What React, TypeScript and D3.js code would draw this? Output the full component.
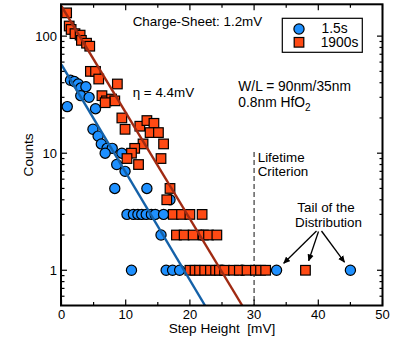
import React from 'react';
import * as d3 from 'd3';

const W = 403;
const H = 354;

// 1.5s (blue circles): step height [mV] and counts
const blueX = [0.9, 1.4, 2.0, 2.6, 3.0, 3.8, 3.0, 4.3, 5.3, 4.9, 5.7, 6.2, 7.1, 7.9, 6.8, 9.4, 8.6, 9.9,
  8.3, 13.3, 16.9, 10.2, 11.2, 11.9, 12.5, 13.2, 14.0, 14.6, 15.9, 15.5, 21.8,
  10.9, 16.3, 17.3, 18.4, 25.0, 28.1, 33.5, 45.0];
const blueCount = [25, 42, 41, 39, 36, 37, 31, 30, 24, 16, 14, 12, 11, 11, 10, 10, 8, 7,
  5, 5, 4, 3, 3, 3, 3, 3, 3, 3, 3, 2, 2,
  1, 1, 1, 1, 1, 1, 1, 1];

// 1900s (red squares)
const redX = [0.8, 1.2, 1.5, 2.1, 2.9, 3.1, 3.9, 4.4, 4.5, 5.3, 5.8, 8.7, 6.3, 7.0, 7.8, 8.3, 6.8,
  9.4, 9.9, 12.2, 13.3, 14.4, 13.8, 15.1, 15.9, 12.7, 11.4, 10.9, 10.2, 12.0, 15.5,
  16.9, 16.4, 17.4, 18.7, 20.0, 21.9, 17.9, 19.1, 20.5, 22.1, 22.9, 24.2,
  20.0, 20.8, 21.5, 22.3, 23.2, 24.0, 24.6, 25.4, 26.8, 27.7, 28.9, 30.2, 31.0, 31.8, 38.0];
const redCount = [158, 122, 114, 105, 102, 92, 87, 82, 50, 50, 43, 39, 31, 28, 29, 28, 27,
  20, 16, 17, 19, 18, 15, 15, 12, 12, 11, 10, 9, 8, 9,
  5, 4, 3, 3, 3, 3, 2, 2, 2, 2, 2, 2,
  1, 1, 1, 1, 1, 1, 1, 1, 1, 1, 1, 1, 1, 1, 1];

// exponential fits: counts = intercept * 10^(slope * x)
const fitIntercept = [57, 180];
const fitSlope = [-0.092, -0.0908];

const seriesLabels = ['1.5s', '1900s'];
const xTicks = [0, 10, 20, 30, 40, 50];
const xMinorTicks = [5, 15, 25, 35, 45];
const yTicks = [1, 10, 100];
const yMinorTicks = [0.6, 0.7, 0.8, 0.9, 2, 3, 4, 5, 6, 7, 8, 9, 20, 30, 40, 50, 60, 70, 80, 90];
const lifetimeCriterion = 30;
const tailPoints = [[33.5, 1], [38.0, 1], [45.0, 1]];

const FONT = '"Liberation Sans", Arial, Helvetica, sans-serif';
const BLUE = '#1E90FF';
const RED = '#FF4A14';
const BLUE_LINE = '#1461A8';
const RED_LINE = '#A02A12';

export default function App() {
  const left = 61.5, right = 382.5, top = 4.3, bottom = 305.5;
  const x = d3.scaleLinear().domain([0, 50]).range([left, right]);
  const y = d3.scaleLog().domain([0.5, 187]).range([bottom, top]);

  const line = d3.line<[number, number]>().x(d => x(d[0])).y(d => y(d[1]));
  const fitLines = fitIntercept.map((a, i) => {
    const xEnd = (Math.log10(0.5) - Math.log10(a)) / fitSlope[i];
    return line([[0, a], [xEnd, 0.5]]);
  });

  const sq = 9.6;
  const r = 5.1;

  const arrowStart = [[316.5, 231], [318.5, 231.5], [321.5, 231]];

  return (
    <svg width={W} height={H} style={{ position: 'absolute', left: 0, top: 0 }} fontFamily={FONT}>
      <defs>
        <clipPath id="plotclip">
          <rect x={left} y={top} width={right - left} height={bottom - top} />
        </clipPath>
        <marker id="arrow" viewBox="0 0 10 10" refX="9" refY="5" markerWidth="7" markerHeight="7" orient="auto" markerUnits="userSpaceOnUse">
          <path d="M0,0.5 L10,5 L0,9.5 Z" fill="#000" />
        </marker>
      </defs>
      <rect width={W} height={H} fill="#fff" />

      {/* dashed lifetime criterion */}
      <line x1={x(lifetimeCriterion)} x2={x(lifetimeCriterion)} y1={152} y2={bottom}
        stroke="#555" strokeWidth={1.4} strokeDasharray="5,3" />

      <g clipPath="url(#plotclip)">
        {blueX.map((v, i) => (
          <circle key={'b' + i} cx={x(v)} cy={y(blueCount[i])} r={r} fill={BLUE} stroke="#000" strokeWidth={1.2} />
        ))}
        {redX.map((v, i) => (
          <rect key={'r' + i} x={x(v) - sq / 2} y={y(redCount[i]) - sq / 2} width={sq} height={sq}
            fill={RED} stroke="#000" strokeWidth={1.2} />
        ))}
        <path d={fitLines[0] || ''} stroke={BLUE_LINE} strokeWidth={2.4} fill="none" />
        <path d={fitLines[1] || ''} stroke={RED_LINE} strokeWidth={2.4} fill="none" />
      </g>

      {/* ticks */}
      <g stroke="#000" strokeWidth={1.2}>
        {xTicks.map(t => (
          <g key={'xt' + t}>
            <line x1={x(t)} x2={x(t)} y1={bottom} y2={bottom - 6} />
            <line x1={x(t)} x2={x(t)} y1={top} y2={top + 6} />
          </g>
        ))}
        {xMinorTicks.map(t => (
          <g key={'xm' + t}>
            <line x1={x(t)} x2={x(t)} y1={bottom} y2={bottom - 3.5} />
            <line x1={x(t)} x2={x(t)} y1={top} y2={top + 3.5} />
          </g>
        ))}
        {yTicks.map(t => (
          <g key={'yt' + t}>
            <line x1={left} x2={left + 5.5} y1={y(t)} y2={y(t)} />
            <line x1={right} x2={right - 5.5} y1={y(t)} y2={y(t)} />
          </g>
        ))}
        {yMinorTicks.map(t => (
          <g key={'ym' + t}>
            <line x1={left} x2={left + 3} y1={y(t)} y2={y(t)} />
            <line x1={right} x2={right - 3} y1={y(t)} y2={y(t)} />
          </g>
        ))}
      </g>

      {/* frame */}
      <rect x={left - 0.5} y={top} width={right - left + 0.5} height={bottom - top} fill="none" stroke="#000" strokeWidth={2} />

      {/* tick labels */}
      <g fontSize={13} fill="#000">
        {xTicks.map(t => (
          <text key={'xl' + t} x={x(t)} y={319} textAnchor="middle">{t}</text>
        ))}
        {yTicks.map(t => (
          <text key={'yl' + t} x={57} y={y(t) + 4.6} textAnchor="end">{t}</text>
        ))}
      </g>

      {/* axis titles */}
      <text x={x(25)} y={333} textAnchor="middle" fontSize={13.6} style={{ whiteSpace: 'pre' }}>{'Step Height  [mV]'}</text>
      <text transform={`translate(33,${(top + bottom) / 2}) rotate(-90)`} textAnchor="middle" fontSize={13.6}>Counts</text>

      {/* annotations */}
      <text x={132.7} y={26} fontSize={13.4}>Charge-Sheet: 1.2mV</text>
      <text x={132.7} y={96.7} fontSize={13.4}>η = 4.4mV</text>
      <text x={238.3} y={90.7} fontSize={13.8}>W/L = 90nm/35nm</text>
      <text x={238.3} y={106.7} fontSize={13.8}>0.8nm HfO<tspan dy={4} fontSize={10}>2</tspan></text>
      <text x={257.7} y={161.5} fontSize={13.4}>Lifetime</text>
      <text x={257.7} y={176} fontSize={13.4}>Criterion</text>
      <text x={326} y={211.5} fontSize={13.4} textAnchor="middle">Tail of the</text>
      <text x={328.5} y={227} fontSize={13.4} textAnchor="middle">Distribution</text>

      {tailPoints.map((p, i) => {
        const tx = x(p[0]);
        const ty = y(p[1]);
        const sx = arrowStart[i][0], sy = arrowStart[i][1];
        const dx = tx - sx, dy = ty - sy;
        const len = Math.sqrt(dx * dx + dy * dy);
        const stop = 10;
        return (
          <line key={'a' + i} x1={sx} y1={sy} x2={sx + dx * (len - stop) / len} y2={sy + dy * (len - stop) / len}
            stroke="#000" strokeWidth={1.3} markerEnd="url(#arrow)" />
        );
      })}

      {/* legend */}
      <rect x={282.3} y={18.3} width={80} height={34} fill="#fff" stroke="#000" strokeWidth={1.2} />
      <circle cx={299} cy={29} r={r} fill={BLUE} stroke="#000" strokeWidth={1.2} />
      <rect x={299 - sq / 2} y={42.3 - sq / 2} width={sq} height={sq} fill={RED} stroke="#000" strokeWidth={1.2} />
      <text x={321.5} y={33.3} fontSize={13.8}>{seriesLabels[0]}</text>
      <text x={320.7} y={47.3} fontSize={13.8}>{seriesLabels[1]}</text>
    </svg>
  );
}
